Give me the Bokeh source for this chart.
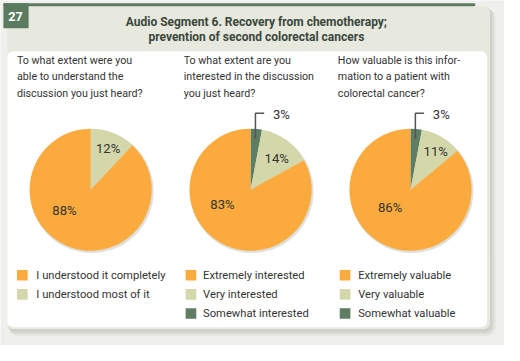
import numpy as np
from bokeh.plotting import figure
from bokeh.models import Range1d, BoxAnnotation, ColumnDataSource
from bokeh.core.properties import value
from bokeh.embed import file_html
from bokeh.resources import INLINE

# ---------------- data ----------------
figure_number = "27"
title_lines = ["Audio Segment 6. Recovery from chemotherapy;",
               "prevention of second colorectal cancers"]
questions = [
    ["To what extent were you", "able to understand the", "discussion you just heard?"],
    ["To what extent are you", "interested in the discussion", "you just heard?"],
    ["How valuable is this infor-", "mation to a patient with", "colorectal cancer?"],
]
# legend order (top to bottom)
legend1 = ["I understood it completely", "I understood most of it"]
values1 = [88, 12]
legend2 = ["Extremely interested", "Very interested", "Somewhat interested"]
values2 = [83, 14, 3]
legend3 = ["Extremely valuable", "Very valuable", "Somewhat valuable"]
values3 = [86, 11, 3]

# ---------------- style / layout ----------------
W, H = 504, 345
IW, IH = 520, 361
S = W / IW
C_ORANGE = "#fbab3d"
C_LIGHT = "#d3d7aa"
C_DARK = "#5e7e64"
COLORS = [C_ORANGE, C_LIGHT, C_DARK]
TXT = "#333333"
FONT = "Roboto"

def Y(yi):
    return IH - yi

def fs(px):
    return f"{px * S:.1f}px"

p = figure(width=W, height=H, x_range=Range1d(0, IW), y_range=Range1d(0, IH),
           output_backend="svg", toolbar_location=None,
           x_axis_location=None, y_axis_location=None, min_border=0)
p.grid.visible = False
p.outline_line_color = None
p.background_fill_color = "#efefec"
p.border_fill_color = "#efefec"

def box(l, r, t, b, color, alpha=1.0, radius=0):
    p.add_layout(BoxAnnotation(left=l, right=r, top=Y(t), bottom=Y(b),
                               fill_color=color, fill_alpha=alpha, line_color=None,
                               border_radius=radius, level="underlay"))

# shadows
box(9, 511, 9, 351, "#c9c9c4", 0.25, 9)
box(8, 509, 8, 349, "#c4c4bf", 0.35, 8)
box(8, 507, 7, 347, "#bdbdb8", 0.4, 7)
# beige panel
box(7, 505, 6, 344, "#e7e8de", 1.0, 6)
# white inner panel
box(7, 502, 53, 342, "#ffffff", 1.0, 6)
# top green rule and number box
box(3, 490, 3, 6, "#5b7b60", 1.0, 2)
box(3, 29, 3, 29, "#5b7b60", 1.0, 0)

# number and title
p.text(x=[15.5], y=[Y(16.5)], text=[figure_number], text_color="white",
       text_font=value(FONT), text_font_size=fs(13), text_font_style="bold",
       text_align="center", text_baseline="middle")
p.text(x=[264, 264], y=[Y(22), Y(38)], text=title_lines, text_color="#3a473c",
       text_font=value(FONT), text_font_size=fs(12.4), text_font_style="bold",
       text_align="center", text_baseline="middle")

# columns
col_text_x = [17, 189, 348]
pie_cx = [93, 258, 423]
pie_cy = 198
pie_r = 63
leg_sq_x = [22.5, 196.5, 355.5]
leg_tx_x = [37, 209, 369]
leg_y = [287.5, 307.5, 327.5]
q_y = [63, 80, 97]
# label offsets (image px) for each slice, legend order
lab_off = [
    [(-27, 22), (18, -43)],
    [(-29, 15), (27, -33), None],
    [(-21, 19), (26, -40), None],
]
all_vals = [values1, values2, values3]
all_legs = [legend1, legend2, legend3]

for k in range(3):
    vals = np.array(all_vals[k], dtype=float)
    legs = all_legs[k]
    cx, cy = pie_cx[k], Y(pie_cy)
    # question text
    p.text(x=[col_text_x[k]] * 3, y=[Y(v) for v in q_y], text=questions[k],
           text_color=TXT, text_font=value(FONT), text_font_size=fs(11),
           text_align="left", text_baseline="middle")
    # pie shadow
    p.circle(x=[cx + 1.2], y=[cy - 1.5], radius=pie_r + 0.8, fill_color="#b9b9b0",
             fill_alpha=0.45, line_color=None)
    # slices clockwise from 12 o'clock: reversed legend order
    order = list(range(len(vals)))[::-1]
    frac = vals[order] / vals.sum()
    cum = np.concatenate([[0], np.cumsum(frac)])
    src = ColumnDataSource(dict(
        start=np.pi / 2 - 2 * np.pi * cum[:-1],
        end=np.pi / 2 - 2 * np.pi * cum[1:],
        color=[COLORS[i] for i in order]))
    p.wedge(x=cx, y=cy, radius=pie_r, start_angle="start", end_angle="end",
            direction="clock", fill_color="color", line_color=None, source=src)
    # labels
    midfrac = {}
    for j, i in enumerate(order):
        midfrac[i] = (cum[j] + cum[j + 1]) / 2
    for i in range(len(vals)):
        txt = f"{int(vals[i])}%"
        off = lab_off[k][i]
        if off is not None:
            p.text(x=[cx + off[0]], y=[cy - off[1]], text=[txt], text_color=TXT,
                   text_font=value(FONT), text_font_size=fs(13.5),
                   text_align="center", text_baseline="middle")
        else:
            a = 2 * np.pi * midfrac[i]
            ax = cx + 0.85 * pie_r * np.sin(a)
            ay = cy + 0.85 * pie_r * np.cos(a)
            top = Y(118)
            p.line(x=[ax, ax, ax + 9], y=[ay, top, top], line_color="#555555",
                   line_width=1.5)
            p.text(x=[ax + 18], y=[top - 1], text=[txt], text_color=TXT,
                   text_font=value(FONT), text_font_size=fs(13.5),
                   text_align="left", text_baseline="middle")
    # legend
    n = len(legs)
    p.rect(x=[leg_sq_x[k]] * n, y=[Y(v) for v in leg_y[:n]], width=11, height=11,
           fill_color=COLORS[:n], line_color=None)
    p.text(x=[leg_tx_x[k]] * n, y=[Y(v) for v in leg_y[:n]], text=legs,
           text_color=TXT, text_font=value(FONT), text_font_size=fs(11.6),
           text_align="left", text_baseline="middle")

open("out.html", "w").write(file_html(p, INLINE))
